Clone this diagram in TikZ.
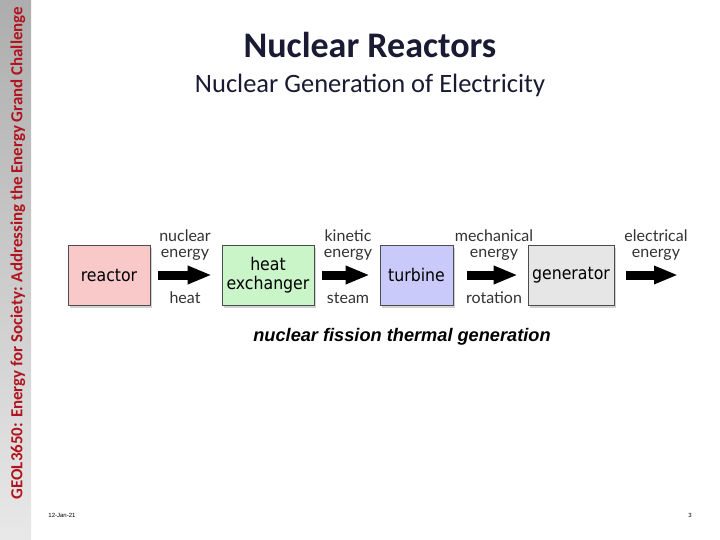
\documentclass[tikz,border=0pt]{standalone}
\usepackage{fontspec}
\setmainfont{Carlito}
\newfontfamily\boxfont{DejaVu Sans Condensed}
\newfontfamily\labfont{Lato}
\newfontfamily\capfont{Liberation Sans}
\usetikzlibrary{arrows.meta,shadows,calc}
\definecolor{sidered}{HTML}{B0141E}
\definecolor{titlecol}{HTML}{1A1A33}
\definecolor{pinkbox}{HTML}{F9C9C9}
\definecolor{greenbox}{HTML}{C9F5C9}
\definecolor{bluebox}{HTML}{C9C9FA}
\definecolor{graybox}{HTML}{E6E6E6}
\definecolor{labgray}{HTML}{333333}
\begin{document}
\begin{tikzpicture}[x=1pt,y=-1pt,
  stagebox/.style={draw=black!70, line width=0.6pt, minimum height=60pt, inner sep=0pt,
    font=\boxfont\fontsize{17.5}{19}\selectfont, align=center,
    drop shadow={opacity=0.35, shadow xshift=2pt, shadow yshift=-3pt}},
  lab/.style={font=\labfont\fontsize{16}{16}\selectfont, text=labgray, align=center, inner sep=0pt},
  bigarrow/.style={line width=9pt, -{Triangle[length=24pt,width=17pt]}, shorten <=8pt, shorten >=10pt}]
\useasboundingbox (0,0) rectangle (720,540);
\fill[white] (0,0) rectangle (720,540);
% sidebar
\shade[top color=black!32, bottom color=black!9] (0,0) rectangle (31,540);
\node[rotate=90, text=sidered, font=\bfseries\fontsize{16.9}{18}\selectfont, inner sep=0pt] (side) at (18,253)
  {GEOL3650: Energy for Society: Addressing the Energy Grand Challenge};
% titles
\node[text=titlecol, font=\bfseries\fontsize{36}{40}\selectfont, inner sep=0pt] (title) at (370,45) {Nuclear Reactors};
\node[text=titlecol, font=\fontsize{26.5}{30}\selectfont, inner sep=0pt] (subtitle) at (370,85) {Nuclear Generation of Electricity};
% boxes
\node[stagebox, fill=pinkbox, minimum width=82pt] (reactor) at (109,275) {reactor};
\node[stagebox, fill=greenbox, minimum width=92pt] (hx) at (268,275) {heat\\exchanger};
\node[stagebox, fill=bluebox, minimum width=73pt] (turbine) at (416.5,275) {turbine};
\node[stagebox, fill=graybox, minimum width=86pt] (generator) at (571,275) {generator};
\coordinate (out) at (688,275);
% arrows
\draw[bigarrow] (reactor) -- (hx);
\draw[bigarrow] (hx) -- (turbine);
\draw[bigarrow, shorten <=14pt] (turbine) -- (generator);
\draw[bigarrow, shorten <=12pt] (generator) -- (out);
% labels
\node[lab] (l1) at (185,245) {nuclear\\energy};
\node[lab] (b1) at (185,298) {heat};
\node[lab] (l2) at (348,245) {kinetic\\energy};
\node[lab] (b2) at (348,298) {steam};
\node[lab] (l3) at (494,245) {mechanical\\energy};
\node[lab] (b3) at (494,298) {rotation};
\node[lab] (l4) at (656,245) {electrical\\energy};
% caption
\node[font=\capfont\bfseries\itshape\fontsize{18.2}{20}\selectfont, inner sep=0pt] (caption) at (402,337) {nuclear fission thermal generation};
% footer
\node[font=\capfont\fontsize{6}{7}\selectfont, inner sep=0pt] (date) at (62,515) {12-Jan-21};
\node[font=\capfont\fontsize{6}{7}\selectfont, inner sep=0pt] (page) at (690,515) {3};
\end{tikzpicture}
\end{document}
